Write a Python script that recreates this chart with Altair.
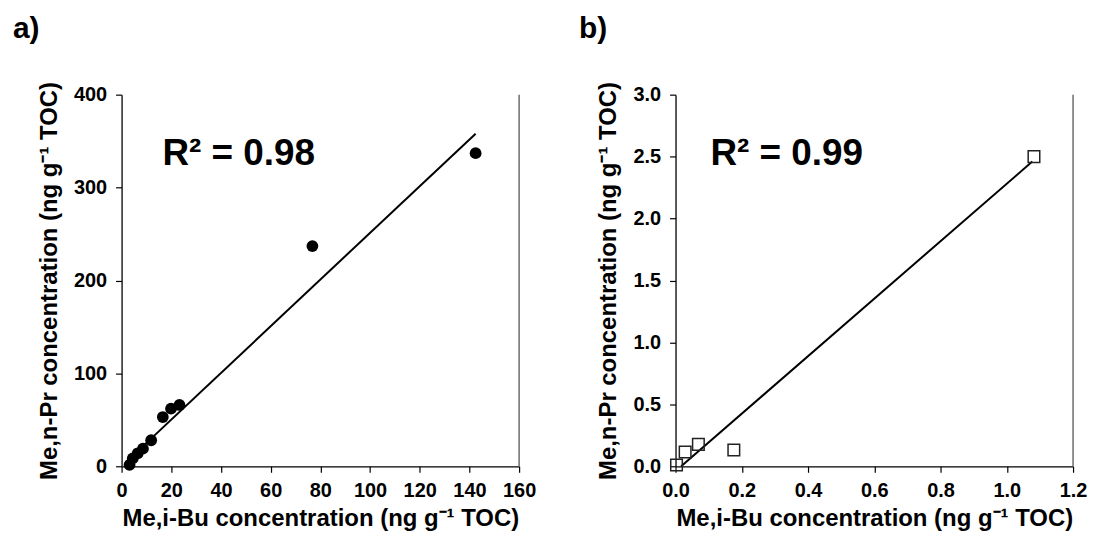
import altair as alt
import pandas as pd

# ---- data ----
a_x = [3.2, 4.5, 6.5, 8.6, 11.9, 16.6, 19.9, 23.3, 76.8, 142.5]
a_y = [1.5, 8.5, 14.0, 19.0, 28.0, 53.0, 62.0, 66.0, 237.0, 337.0]
a_fit_x = [2.0, 142.5]
a_fit_y = [5.0, 358.0]

b_x = [0.003, 0.029, 0.069, 0.176, 1.082]
b_y = [0.01, 0.115, 0.177, 0.131, 2.50]
b_fit_x = [0.017, 1.077]
b_fit_y = [0.0, 2.46]

a_xticks = [0, 20, 40, 60, 80, 100, 120, 140, 160]
a_yticks = [0, 100, 200, 300, 400]
b_xticks = [0.0, 0.2, 0.4, 0.6, 0.8, 1.0, 1.2]
b_yticks = [0.0, 0.5, 1.0, 1.5, 2.0, 2.5, 3.0]

FONT = "Liberation Sans"
W, H = 399, 373
X_TITLE = "Me,i-Bu concentration (ng g⁻¹ TOC)"
Y_TITLE = "Me,n-Pr concentration (ng g⁻¹ TOC)"


def panel(px, py, fx, fy, xdom, ydom, xticks, yticks, xfmt, yfmt, label, r2, r2dx, label_dx, point_kind):
    pts = pd.DataFrame({"x": px, "y": py})
    fit = pd.DataFrame({"x": fx, "y": fy})
    one = pd.DataFrame({"t": [0]})

    xenc = alt.X("x:Q", scale=alt.Scale(domain=xdom, nice=False, zero=False),
                 axis=alt.Axis(values=xticks, format=xfmt, title=X_TITLE))
    yenc = alt.Y("y:Q", scale=alt.Scale(domain=ydom, nice=False, zero=False),
                 axis=alt.Axis(values=yticks, format=yfmt, title=Y_TITLE))

    if point_kind == "circle":
        pmark = alt.Chart(pts).mark_circle(size=140, color="black", opacity=1)
    else:
        pmark = alt.Chart(pts).mark_point(shape="square", size=135, filled=False,
                                          color="#222222", strokeWidth=1.5, opacity=1)
    points = pmark.encode(x=xenc, y=yenc)
    line = alt.Chart(fit).mark_line(color="black", strokeWidth=2).encode(x=xenc, y=yenc)

    r2t = alt.Chart(one).mark_text(text=r2, font=FONT, fontWeight="bold", fontSize=37,
                                   align="left", baseline="middle", color="black").encode(
        x=alt.value(r2dx), y=alt.value(60))
    lab = alt.Chart(one).mark_text(text=label, font=FONT, fontWeight="bold", fontSize=30,
                                   align="left", baseline="top", color="black").encode(
        x=alt.value(label_dx), y=alt.value(-81))
    border = alt.Chart(one).mark_rule(color="#555555", strokeWidth=1.3).encode(
        x=alt.value(W), y=alt.value(0), y2=alt.value(H))

    return alt.layer(line, points, r2t, lab, border).properties(width=W, height=H)


pa = panel(a_x, a_y, a_fit_x, a_fit_y, [0, 160], [0, 400], a_xticks, a_yticks, "d", "d",
           "a)", "R² = 0.98", 41, -109, "circle")
pb = panel(b_x, b_y, b_fit_x, b_fit_y, [0, 1.2], [0, 3.0], b_xticks, b_yticks, ".1f", ".1f",
           "b)", "R² = 0.99", 35, -97, "square")

chart = alt.hconcat(pa, pb, spacing=43).properties(
    padding={"left": 5, "top": 5, "right": 1, "bottom": 5}
).configure_view(stroke=None).configure_axis(
    grid=False,
    domainColor="black", domainWidth=1.3,
    tickColor="black", tickWidth=1.2, tickSize=6,
    labelFont=FONT, labelFontWeight="bold", labelFontSize=20, labelColor="black",
    labelPadding=9, labelFlush=False, labelOverlap=False,
    titleFont=FONT, titleFontWeight="bold", titleFontSize=24, titleColor="black",
    titlePadding=12,
).configure_axisX(labelPadding=8, titlePadding=6)

chart.save("out.html", embed_options={"renderer": "svg", "actions": False})
